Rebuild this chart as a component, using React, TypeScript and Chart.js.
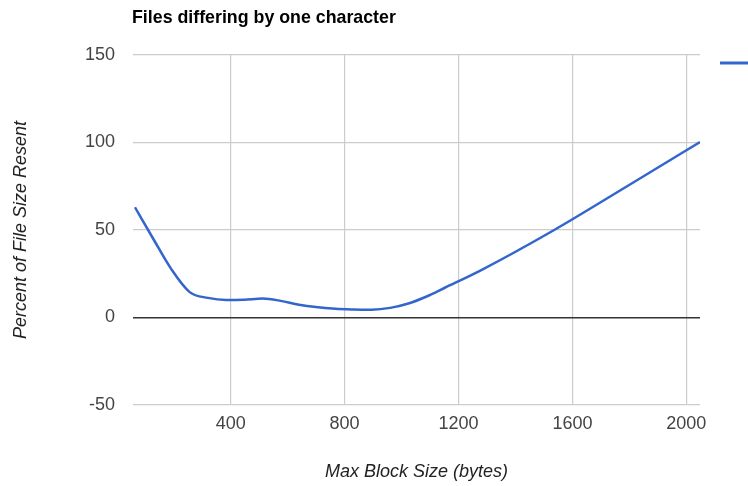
import { useEffect, useRef } from 'react';
import { Chart, registerables } from 'chart.js';

Chart.register(...registerables);

const chartTitle = 'Files differing by one character';
const xAxisTitle = 'Max Block Size (bytes)';
const yAxisTitle = 'Percent of File Size Resent';

const blockSizes = [64, 128, 192, 256, 320, 384, 448, 512, 576, 640, 768, 832, 896, 960, 1024, 1088, 1152, 1280, 1536, 1792, 2048];
const percentResent = [63, 45, 27.5, 14.5, 11.2, 10, 10.2, 10.8, 9.5, 7.3, 5, 4.6, 4.5, 5.5, 8, 12, 17, 27.1, 50, 75, 100.3];

const xTickValues = [400, 800, 1200, 1600, 2000];
const yTickValues = [-50, 0, 50, 100, 150];

const FONT = '"Liberation Sans", Arial, sans-serif';

export default function App() {
  const canvasRef = useRef<HTMLCanvasElement | null>(null);

  useEffect(() => {
    const canvas = canvasRef.current;
    if (!canvas) return;

    const decorations = {
      id: 'decorations',
      afterDraw(chart: any) {
        const { ctx, chartArea } = chart;
        ctx.save();
        // title
        ctx.fillStyle = '#000';
        ctx.font = `bold 17.8px ${FONT}`;
        ctx.textBaseline = 'alphabetic';
        ctx.textAlign = 'left';
        ctx.fillText(chartTitle, chartArea.left - 1, 22.5);
        // legend line (label clipped off the right edge)
        ctx.strokeStyle = '#3366cc';
        ctx.lineWidth = 3;
        ctx.beginPath();
        ctx.moveTo(chartArea.right + 20, chartArea.top + 8);
        ctx.lineTo(chart.width + 5, chartArea.top + 8);
        ctx.stroke();
        ctx.restore();
      },
    };

    const chart = new Chart(canvas, {
      type: 'line',
      data: {
        datasets: [
          {
            label: 'Percent resent',
            data: blockSizes.map((x, i) => ({ x, y: percentResent[i] })),
            borderColor: '#3366cc',
            borderWidth: 2.5,
            pointRadius: 0,
            fill: false,
            cubicInterpolationMode: 'monotone',
          },
        ],
      },
      options: {
        animation: false,
        responsive: false,
        layout: { padding: { top: 55, right: 48, bottom: 0, left: 0 } },
        plugins: {
          legend: { display: false },
          tooltip: { enabled: false },
          title: { display: false },
        },
        scales: {
          x: {
            type: 'linear',
            min: 57,
            max: 2048,
            afterBuildTicks: (scale: any) => {
              scale.ticks = xTickValues.map((v) => ({ value: v }));
            },
            afterFit: (scale: any) => {
              scale.height = 81;
            },
            grid: { color: '#cccccc', lineWidth: 1.2, drawTicks: false },
            border: { display: false },
            ticks: {
              padding: 8,
              color: '#444444',
              font: { family: FONT, size: 18 },
              maxRotation: 0,
              autoSkip: false,
              callback: (v: any) => String(v),
            },
            title: {
              display: true,
              text: xAxisTitle,
              color: '#222222',
              font: { family: FONT, size: 18, style: 'italic' },
              padding: { top: 0, bottom: 3 },
            },
          },
          y: {
            type: 'linear',
            min: -50,
            max: 150,
            afterBuildTicks: (scale: any) => {
              scale.ticks = yTickValues.map((v) => ({ value: v }));
            },
            afterFit: (scale: any) => {
              scale.width = 133;
            },
            grid: {
              color: (c: any) => (c.tick && c.tick.value === 0 ? '#333333' : '#cccccc'),
              lineWidth: (c: any) => (c.tick && c.tick.value === 0 ? 1.5 : 1.2),
              drawTicks: false,
            },
            border: { display: false },
            ticks: {
              padding: 18,
              color: '#444444',
              font: { family: FONT, size: 18 },
              callback: (v: any) => String(v),
            },
            title: {
              display: true,
              text: yAxisTitle,
              color: '#222222',
              font: { family: FONT, size: 18, style: 'italic' },
              padding: { top: 10, bottom: 0 },
            },
          },
        },
      },
      plugins: [decorations],
    } as any);

    return () => {
      chart.destroy();
    };
  }, []);

  return (
    <div style={{ position: 'fixed', left: 0, top: 0, width: 748, height: 486, background: '#fff' }}>
      <canvas ref={canvasRef} width={748} height={486} style={{ display: 'block', width: 748, height: 486 }} />
    </div>
  );
}
